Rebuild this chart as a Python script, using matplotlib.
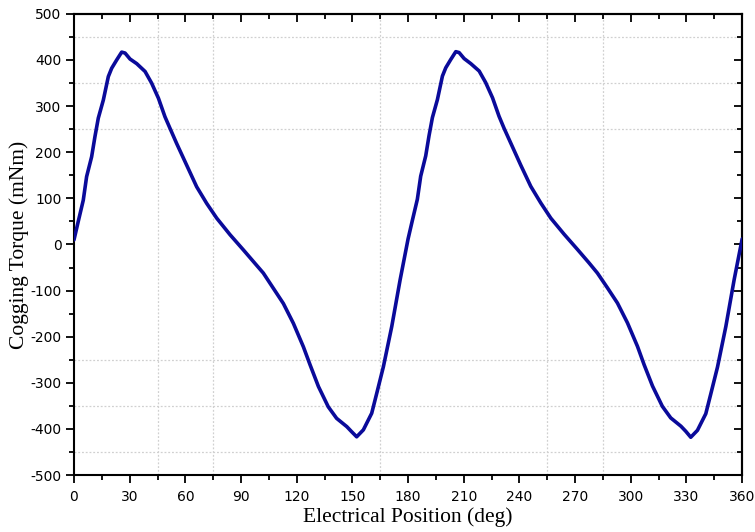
import matplotlib
matplotlib.use("Agg")
import matplotlib.pyplot as plt
from matplotlib.ticker import MultipleLocator

plt.rcParams["axes.unicode_minus"] = False

# ---- data ----
position_first = [0, 2.3, 5, 6.8, 9.5, 11.3, 13.1, 15.8, 18.5, 20.3, 23, 25.7, 27.5,
                  30.2, 33.8, 38.3, 41.8, 45.5, 49, 51.7, 55.3, 60.7, 66.1, 71.5, 76.9,
                  84.1, 91.3, 97.5, 102, 107.4, 112.8, 118.2, 123.6, 127.2, 131.7, 137,
                  141.5, 147, 149.6, 152.3, 155.9, 160.4, 163.1, 166.7, 171.2, 175.7]
torque_first = [10, 50, 96, 147, 190, 234, 274, 313, 364, 382, 400, 417, 415,
                402, 392, 375, 350, 317, 277, 252, 219, 172, 125, 89, 57,
                21, -12, -41, -62, -95, -128, -171, -222, -261, -308, -352,
                -377, -395, -406, -417, -402, -366, -323, -265, -178, -77]

position_second = [180, 182.3, 185, 186.8, 189.5, 191.3, 193.1, 195.8, 198.5, 200.3, 203,
                   205.7, 207.5, 210.2, 213.8, 218.3, 221.8, 225.5, 229, 231.7, 235.3,
                   240.7, 246.1, 251.5, 256.9, 264.1, 271.3, 277.5, 282, 287.4, 292.8,
                   298.2, 303.6, 307.2, 311.7, 317, 321.5, 327, 329.6, 332.3, 335.9,
                   340.4, 343.1, 346.7, 351.2, 355.7, 360]
torque_second = [12, 52, 98, 148, 192, 236, 275, 314, 365, 383, 401, 418, 416,
                 403, 392, 376, 351, 318, 278, 252, 220, 172, 126, 90, 57,
                 22, -11, -40, -62, -94, -127, -170, -221, -261, -307, -351,
                 -376, -394, -405, -418, -403, -367, -324, -266, -178, -76, 12]

position_deg = position_first + position_second
torque_mNm = torque_first + torque_second

x_ticks = [0, 30, 60, 90, 120, 150, 180, 210, 240, 270, 300, 330, 360]
y_ticks = [-500, -400, -300, -200, -100, 0, 100, 200, 300, 400, 500]
x_grid = [45, 75, 165, 255, 285]
y_grid = [-450, -350, -250, 250, 350, 450]

fig = plt.figure(figsize=(7.55, 5.32), dpi=100)
ax = fig.add_axes([0.098, 0.107, 0.885, 0.867])

for gx in x_grid:
    ax.axvline(gx, color="#d0d0d0", lw=0.9, ls=(0, (1.5, 1.5)), zorder=0)
for gy in y_grid:
    ax.axhline(gy, color="#d0d0d0", lw=0.9, ls=(0, (1.5, 1.5)), zorder=0)

ax.plot(position_deg, torque_mNm, color="#0a0a9a", lw=2.6, solid_joinstyle="round",
        solid_capstyle="round", zorder=3)

ax.set_xlim(0, 360)
ax.set_ylim(-500, 500)
ax.set_xticks(x_ticks)
ax.set_yticks(y_ticks)
ax.xaxis.set_minor_locator(MultipleLocator(15))
ax.yaxis.set_minor_locator(MultipleLocator(50))

for s in ax.spines.values():
    s.set_linewidth(1.5)

ax.tick_params(axis="both", which="major", direction="out", length=6, width=1.3,
               labelsize=10, pad=3)
ax.tick_params(axis="x", which="major", pad=5)
ax.tick_params(axis="both", which="minor", direction="out", length=3.5, width=1.3)
ax.tick_params(axis="x", which="both", top=False)
ax.tick_params(axis="y", which="both", right=False)

axt = ax.secondary_xaxis("top")
axt.set_xticks(x_ticks)
axt.xaxis.set_minor_locator(MultipleLocator(15))
axt.tick_params(which="major", direction="in", length=6, width=1.3, labeltop=False)
axt.tick_params(which="minor", direction="in", length=3.5, width=1.3)
axt.spines["top"].set_linewidth(1.5)

axr = ax.secondary_yaxis("right")
axr.set_yticks(y_ticks)
axr.yaxis.set_minor_locator(MultipleLocator(50))
axr.tick_params(which="major", direction="in", length=6, width=1.3, labelright=False)
axr.tick_params(which="minor", direction="in", length=3.5, width=1.3)
axr.spines["right"].set_linewidth(1.5)

ax.set_xlabel("Electrical Position (deg)", family="Liberation Serif", fontsize=15.5, labelpad=2)
ax.set_ylabel("Cogging Torque (mNm)", family="Liberation Serif", fontsize=15.5, labelpad=1)

fig.savefig("out.png", dpi=100)
